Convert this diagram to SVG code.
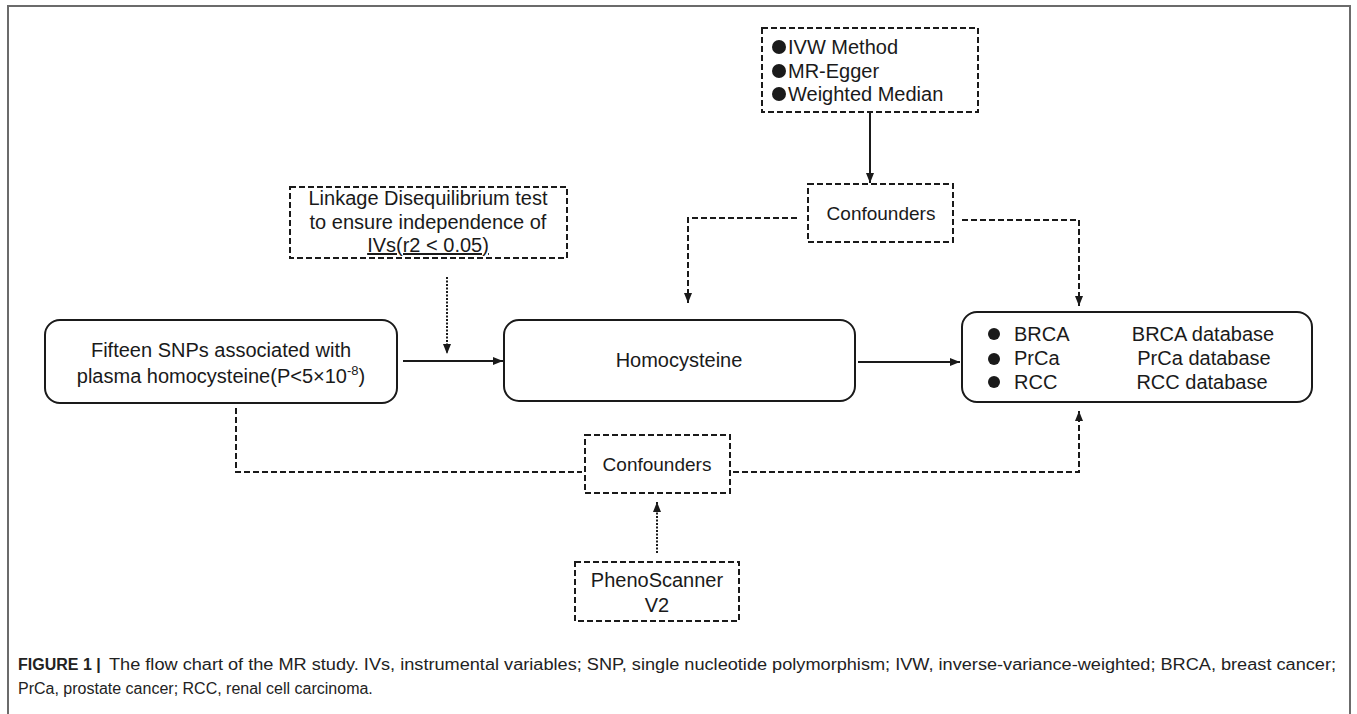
<svg xmlns="http://www.w3.org/2000/svg" width="1357" height="714" viewBox="0 0 1357 714">
<style>
  text { font-family: "Liberation Sans", Arial, sans-serif; fill: #1a1a1a; }
  .t { font-size: 20px; }
  .tc { font-size: 20px; text-anchor: middle; }
  .solidbox { fill: #fff; stroke: #1a1a1a; stroke-width: 2; }
  .dashbox { fill: #fff; stroke: #1a1a1a; stroke-width: 2; stroke-dasharray: 6 3; }
  .solid { fill: none; stroke: #1a1a1a; stroke-width: 2; }
  .dash { fill: none; stroke: #1a1a1a; stroke-width: 2; stroke-dasharray: 6 3; }
  .dot { fill: none; stroke: #1a1a1a; stroke-width: 2; stroke-dasharray: 2 1.5; }
  .cap { font-size: 16px; fill: #222; }
</style>
<defs>
  <marker id="arr" markerUnits="userSpaceOnUse" markerWidth="10" markerHeight="10" viewBox="0 0 10 10" refX="10" refY="5" orient="auto">
    <path d="M0,1 L10,5 L0,9 Z" fill="#1a1a1a"/>
  </marker>
</defs>

<rect width="1357" height="714" fill="#fff"/>
<path d="M8,720 V6 H1350 V720" fill="none" stroke="#6b6b6b" stroke-width="2"/>

<g id="connectors">
  <path class="solid" d="M870,112 V183" marker-end="url(#arr)"/>
  <path class="dash" d="M797,218 H688 V303" marker-end="url(#arr)"/>
  <path class="dash" d="M962,220 H1079 V306" marker-end="url(#arr)"/>
  <path class="dot" d="M447,277 V354" marker-end="url(#arr)"/>
  <path class="solid" d="M403,361 H503" marker-end="url(#arr)"/>
  <path class="solid" d="M858,362 H960" marker-end="url(#arr)"/>
  <path class="dash" d="M236,408 V472 H582"/>
  <path class="dash" d="M733,472 H1079 V411" marker-end="url(#arr)"/>
  <path class="dot" d="M657,553 V502" marker-end="url(#arr)"/>
</g>

<g id="methods">
  <rect class="dashbox" x="762" y="28" width="216" height="84"/>
  <circle cx="779" cy="47" r="7" fill="#1a1a1a"/>
  <circle cx="779" cy="71" r="7" fill="#1a1a1a"/>
  <circle cx="779" cy="94" r="7" fill="#1a1a1a"/>
  <text class="t" x="788" y="54">IVW Method</text>
  <text class="t" x="788" y="78">MR-Egger</text>
  <text class="t" x="788" y="101">Weighted Median</text>
</g>

<g id="confounders-top">
  <rect class="dashbox" x="808" y="184" width="145" height="58"/>
  <text class="tc" x="881" y="220" style="font-size:19px">Confounders</text>
</g>

<g id="linkage">
  <rect class="dashbox" x="290" y="187" width="277" height="71"/>
  <text class="tc" x="428" y="205">Linkage Disequilibrium test</text>
  <text class="tc" x="428" y="229">to ensure independence of</text>
  <text class="tc" x="428" y="252" text-decoration="underline">IVs(r2 &lt; 0.05)</text>
</g>

<g id="snps">
  <rect class="solidbox" x="45" y="320" width="352" height="83" rx="15"/>
  <text class="tc" x="221" y="357">Fifteen SNPs associated with</text>
  <text class="tc" x="221" y="383">plasma homocysteine(P&lt;5×10<tspan dy="-8" style="font-size:13px">-8</tspan><tspan dy="8">)</tspan></text>
</g>

<g id="homocysteine">
  <rect class="solidbox" x="504" y="320" width="351" height="81" rx="15"/>
  <text class="tc" x="679" y="367">Homocysteine</text>
</g>

<g id="outcomes">
  <rect class="solidbox" x="962" y="312" width="350" height="90" rx="15"/>
  <circle cx="994" cy="334" r="6" fill="#1a1a1a"/>
  <circle cx="994" cy="359" r="6" fill="#1a1a1a"/>
  <circle cx="994" cy="382" r="6" fill="#1a1a1a"/>
  <text class="t" x="1014" y="341">BRCA</text>
  <text class="t" x="1014" y="365">PrCa</text>
  <text class="t" x="1014" y="389">RCC</text>
  <text class="tc" x="1203" y="341">BRCA database</text>
  <text class="tc" x="1204" y="365">PrCa database</text>
  <text class="tc" x="1202" y="389">RCC database</text>
</g>

<g id="confounders-bottom">
  <rect class="dashbox" x="585" y="435" width="145" height="58"/>
  <text class="tc" x="657" y="471" style="font-size:19px">Confounders</text>
</g>

<g id="phenoscanner">
  <rect class="dashbox" x="575" y="562" width="164" height="59"/>
  <text class="tc" x="657" y="587">PhenoScanner</text>
  <text class="tc" x="657" y="612">V2</text>
</g>

<g id="caption">
  <text class="cap" x="18" y="670" font-weight="bold">FIGURE 1 |</text>
  <text class="cap" x="109" y="670" textLength="1227" lengthAdjust="spacingAndGlyphs">The flow chart of the MR study. IVs, instrumental variables; SNP, single nucleotide polymorphism; IVW, inverse-variance-weighted; BRCA, breast cancer;</text>
  <text class="cap" x="18" y="694">PrCa, prostate cancer; RCC, renal cell carcinoma.</text>
</g>
</svg>
